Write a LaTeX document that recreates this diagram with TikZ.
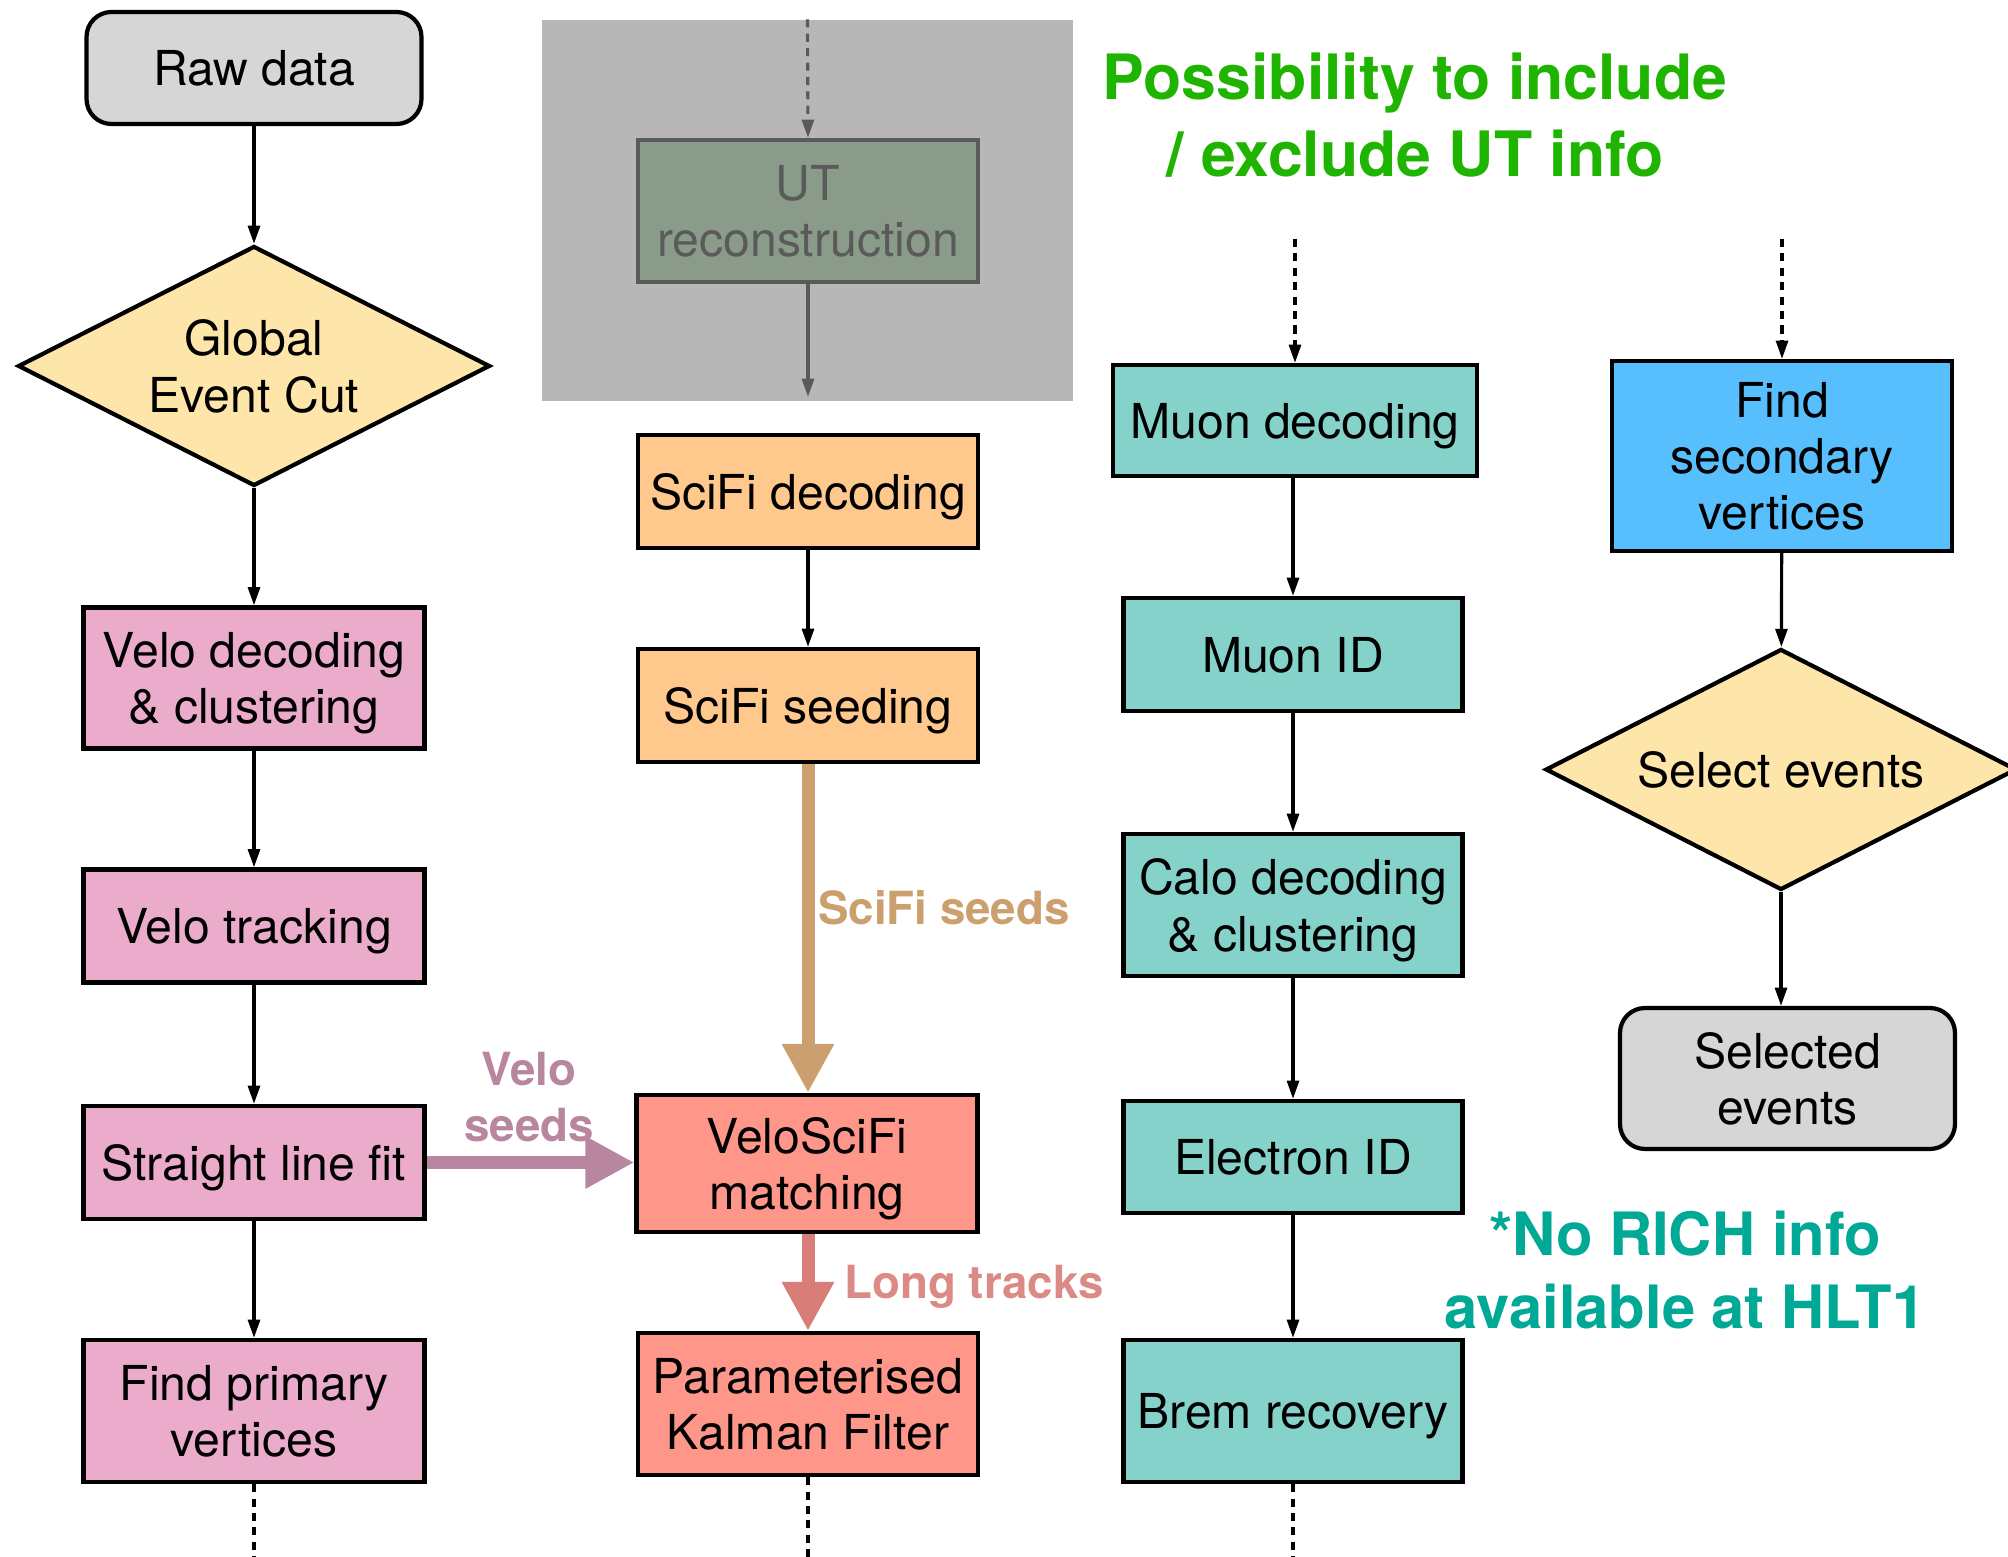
\documentclass[tikz,border=0pt]{standalone}
\usepackage{fontspec}
\setmainfont{TeX Gyre Heros}
\usepackage{tikz}
\usetikzlibrary{shapes.geometric,positioning,calc,arrows.meta}
\usepackage{xcolor}
\definecolor{termcolor}{RGB}{214, 214, 214}
\definecolor{cutcolor}{RGB}{254, 229, 169}
\definecolor{velocolor}{RGB}{234, 172, 202}
\definecolor{scificolor}{RGB}{255, 200, 140}
\definecolor{longcolor}{RGB}{254, 150, 138}
\definecolor{pidcolor}{RGB}{132, 210, 201}
\definecolor{svcolor}{RGB}{88, 191, 255}
\definecolor{utbgcolor}{RGB}{183, 183, 183}
\definecolor{utboxcolor}{RGB}{138, 156, 137}
\definecolor{utlinecolor}{RGB}{90, 90, 90}
\definecolor{seedcolor}{RGB}{203, 160, 110}
\definecolor{veloseedcolor}{RGB}{185, 134, 159}
\definecolor{trackcolor}{RGB}{216, 125, 120}
\definecolor{notegreen}{RGB}{30, 180, 0}
\definecolor{noteteal}{RGB}{0, 168, 150}

\begin{document}
\begin{tikzpicture}[
    procbox/.style={rectangle, draw, line width=1.2pt, minimum width=3.4cm, minimum height=1.13cm, align=center, inner sep=2pt, text depth=0pt, font={\fontsize{13.7}{16}\selectfont}},
    termbox/.style={procbox, rounded corners=0.25cm, fill=termcolor},
    decision/.style={diamond, draw, line width=1.2pt, aspect=2, inner sep=0pt, minimum width=4.72cm, minimum height=2.4cm, align=center, text depth=0pt, fill=cutcolor, font={\fontsize{13.7}{16}\selectfont}},
    flow/.style={line width=0.9pt, -{Triangle[length=5.2pt, width=3.4pt]}},
    dotflow/.style={flow, dash pattern=on 2.3pt off 1.8pt},
    dotline/.style={line width=0.9pt, dash pattern=on 2.3pt off 1.8pt},
    fatflow/.style={line width=0.13cm, -{Triangle[length=0.49cm, width=0.49cm]}},
    flowlabel/.style={font={\bfseries\fontsize{13}{16}\selectfont}, align=center, inner sep=0pt},
    note/.style={font={\bfseries\fontsize{17.8}{21.9}\selectfont}, align=center, inner sep=0pt}
]
    \useasboundingbox (0,0) rectangle (20.08,-15.57);

    % Velo chain
    \node[termbox, minimum width=3.35cm, minimum height=1.12cm] (raw) at (2.54,-0.68) {Raw data};
    \node[decision] (gec) at (2.54,-3.66) {Global\\Event Cut};
    \node[procbox, fill=velocolor, minimum width=3.41cm, minimum height=1.41cm] (velodec) at (2.54,-6.78) {Velo decoding\\\& clustering};
    \node[procbox, fill=velocolor, minimum width=3.41cm] (velotrk) at (2.54,-9.26) {Velo tracking};
    \node[procbox, fill=velocolor, minimum width=3.41cm] (slf) at (2.54,-11.625) {Straight line fit};
    \node[procbox, fill=velocolor, minimum width=3.41cm, minimum height=1.42cm] (pv) at (2.54,-14.11) {Find primary\\vertices};

    % UT (optional)
    \node[rectangle, fill=utbgcolor, minimum width=5.31cm, minimum height=3.81cm, inner sep=0pt] (utregion) at (8.075,-2.105) {};
    \node[procbox, fill=utboxcolor, draw=utlinecolor, text=utlinecolor, minimum height=1.42cm] (ut) at (8.08,-2.11) {UT\\reconstruction};
    \coordinate (utout) at (8.08,-3.97);

    % SciFi chain
    \node[procbox, fill=scificolor] (scifidec) at (8.08,-4.915) {SciFi decoding};
    \node[procbox, fill=scificolor] (scifiseed) at (8.08,-7.055) {SciFi seeding};
    \node[procbox, fill=longcolor, minimum width=3.41cm, minimum height=1.37cm] (match) at (8.07,-11.635) {VeloSciFi\\matching};
    \node[procbox, fill=longcolor, minimum height=1.42cm] (pkf) at (8.08,-14.04) {Parameterised\\Kalman Filter};

    % Muon / Calo chain
    \coordinate (muonin) at (12.95,-2.39);
    \node[procbox, fill=pidcolor, minimum width=3.64cm, minimum height=1.11cm] (muondec) at (12.95,-4.205) {Muon decoding};
    \node[procbox, fill=pidcolor, minimum width=3.39cm] (muonid) at (12.93,-6.545) {Muon ID};
    \node[procbox, fill=pidcolor, minimum width=3.39cm, minimum height=1.42cm] (calo) at (12.93,-9.05) {Calo decoding\\\& clustering};
    \node[procbox, fill=pidcolor, minimum width=3.39cm, minimum height=1.12cm] (eid) at (12.93,-11.57) {Electron ID};
    \node[procbox, fill=pidcolor, minimum width=3.39cm, minimum height=1.42cm] (brem) at (12.93,-14.11) {Brem recovery};

    % Selection
    \coordinate (svin) at (17.82,-2.39);
    \node[procbox, fill=svcolor, minimum height=1.9cm] (sv) at (17.82,-4.56) {Find\\secondary\\vertices};
    \node[decision, minimum width=4.71cm, minimum height=2.41cm] (selev) at (17.81,-7.695) {Select events};
    \node[termbox, minimum width=3.35cm, minimum height=1.41cm] (selected) at (17.875,-10.785) {Selected\\events};

    % Notes
    \node[note, text=notegreen] (utnote) at (14.15,-1.15) {Possibility to include\\/ exclude UT info};
    \node[note, text=noteteal, font={\bfseries\fontsize{17}{21}\selectfont}] (richnote) at (16.85,-12.70) {*No RICH info\\available at HLT1};

    % Connectors
    \draw[flow] (raw) -- (gec);
    \draw[flow] (gec) -- (velodec);
    \draw[flow] (velodec) -- (velotrk);
    \draw[flow] (velotrk) -- (slf);
    \draw[flow] (slf) -- (pv);
    \draw[dotline] (pv.south) -- (pv.south |- 0,-15.57);

    \draw[dotflow, utlinecolor] (utregion.north) -- (ut.north);
    \draw[flow, utlinecolor] (ut.south) -- (utout);
    \draw[flow] (scifidec) -- (scifiseed);
    \draw[fatflow, seedcolor] (scifiseed.south) -- (match.north -| scifiseed.south);
    \draw[fatflow, veloseedcolor] (slf.east) -- (slf.east -| match.west);
    \draw[fatflow, trackcolor] (match.south -| pkf.north) -- (pkf.north);
    \draw[dotline] (pkf.south) -- (pkf.south |- 0,-15.57);

    \draw[dotflow] (muonin) -- (muondec.north);
    \draw[flow] (muondec.south -| muonid.north) -- (muonid.north);
    \draw[flow] (muonid) -- (calo);
    \draw[flow] (calo) -- (eid);
    \draw[flow] (eid) -- (brem);
    \draw[dotline] (brem.south) -- (brem.south |- 0,-15.57);

    \draw[dotflow] (svin) -- (sv.north);
    \draw[flow] (sv) -- (selev);
    \draw[flow] (selev.south) -- (selev.south |- selected.north);

    % Flow labels
    \node[flowlabel, text=veloseedcolor] (veloseedlbl) at (5.29,-10.97) {Velo\\seeds};
    \node[flowlabel, text=seedcolor] (scifiseedlbl) at (9.44,-9.08) {SciFi seeds};
    \node[flowlabel, text=trackcolor!90!white] (longlbl) at (9.74,-12.87) {Long tracks};
\end{tikzpicture}
\end{document}
